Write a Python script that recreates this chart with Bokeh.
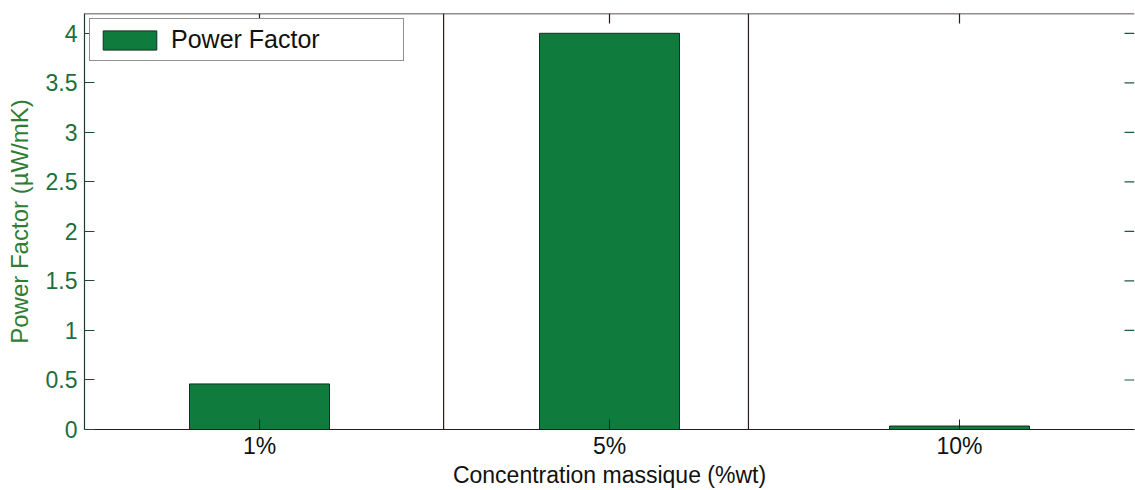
import math
from bokeh.plotting import figure
from bokeh.models import (ColumnDataSource, Range1d, FactorRange, FixedTicker, Span,
                          Legend, LegendItem)
from bokeh.transform import dodge
from bokeh.embed import file_html
from bokeh.resources import INLINE

# ---- data ----
categories = ["1%", "5%", "10%"]
power_factor = [0.46, 4.0, 0.035]
y_ticks = [0, 0.5, 1, 1.5, 2, 2.5, 3, 3.5, 4]
y_max = 4.2
divider_positions = [1.026, 1.897]  # extra axes lines seen in the original figure

FONT = "Liberation Sans"
GREEN = "#0f7b3c"
LINE = "#2a1a1a"
YGREEN = "#1e6e3a"

src = ColumnDataSource(dict(cat=categories, pf=power_factor))

p = figure(width=1135, height=490, output_backend="svg", toolbar_location=None,
           x_range=FactorRange(*categories, range_padding=0), y_range=Range1d(0, y_max),
           min_border_left=84, min_border_right=1, min_border_top=13, min_border_bottom=50)
p.outline_line_color = None
p.xgrid.grid_line_color = None
p.ygrid.grid_line_color = None
p.background_fill_color = "white"
p.border_fill_color = "white"

r = p.vbar(x="cat", top="pf", width=0.4, source=src, fill_color=GREEN,
           line_color="#1c2a20", line_width=1)

for xpos in divider_positions:
    p.add_layout(Span(location=xpos, dimension="height", line_color=LINE, line_width=1.2))

# top border and inward ticks (top and right), as in the original box
p.add_layout(Span(location=y_max, dimension="width", line_color=LINE, line_width=1.5))
top_src = ColumnDataSource(dict(cat=categories, y=[y_max] * len(categories)))
p.ray(x="cat", y="y", source=top_src, length=10, length_units="screen",
      angle=-math.pi / 2, line_color=LINE, line_width=1.2)
right_src = ColumnDataSource(dict(cat=[categories[-1]] * len(y_ticks), y=y_ticks))
p.ray(x=dodge("cat", 0.5, range=p.x_range), y="y", source=right_src, length=10,
      length_units="screen", angle=math.pi, line_color="#1f5a4a", line_width=1.2)

# bottom axis
xa = p.xaxis[0]
xa.axis_label = "Concentration massique (%wt)"
xa.axis_label_text_font = FONT
xa.axis_label_text_font_style = "normal"
xa.axis_label_text_font_size = "23px"
xa.axis_label_text_color = "#111111"
xa.axis_label_standoff = 0
xa.major_label_text_font = FONT
xa.major_label_text_font_size = "23px"
xa.major_label_text_color = "#111111"
xa.major_label_standoff = 3
xa.major_tick_in = 10
xa.major_tick_out = 0
xa.major_tick_line_color = LINE
xa.axis_line_color = LINE
xa.axis_line_width = 1.2

# left axis
ya = p.yaxis[0]
ya.ticker = FixedTicker(ticks=y_ticks)
ya.axis_label = "Power Factor (µW/mK)"
ya.axis_label_text_font = FONT
ya.axis_label_text_font_style = "normal"
ya.axis_label_text_font_size = "24px"
ya.axis_label_text_color = "#2f7d34"
ya.axis_label_standoff = 10
ya.major_label_text_font = FONT
ya.major_label_text_font_size = "23px"
ya.major_label_text_color = YGREEN
ya.major_label_standoff = 7
ya.major_tick_in = 10
ya.major_tick_out = 0
ya.major_tick_line_color = "#1f4a3a"
ya.minor_tick_line_color = None
ya.axis_line_color = "#1f3a2f"
ya.axis_line_width = 1.2

legend = Legend(items=[LegendItem(label="Power Factor", renderers=[r])],
                location="top_left", margin=5, padding=6,
                glyph_width=67, glyph_height=24, label_height=24, label_width=226,
                label_standoff=8, border_line_color="#222222", border_line_width=1,
                background_fill_color="white", background_fill_alpha=1,
                label_text_font=FONT, label_text_font_size="25px", label_text_color="#111111")
p.add_layout(legend)

open("out.html", "w").write(file_html(p, INLINE))
